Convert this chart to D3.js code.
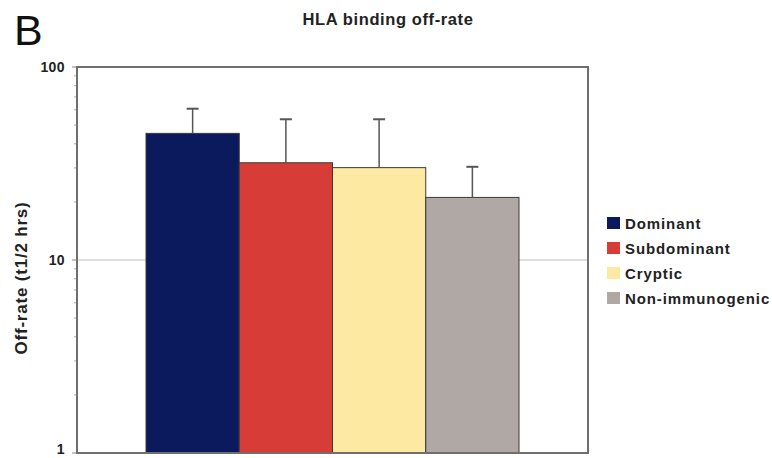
<!DOCTYPE html>
<html><head><meta charset="utf-8">
<script src="https://cdn.jsdelivr.net/npm/d3@7/dist/d3.min.js"></script>
<style>body{margin:0;background:#fff}svg{display:block}text{font-family:"Liberation Sans",Arial,sans-serif}</style>
</head><body>
<svg id="c" width="772" height="458"></svg>
<script>
const categories = ["Dominant", "Subdominant", "Cryptic", "Non-immunogenic"];
const values = [45.3, 31.9, 30.1, 21.1];
const errorTops = [60.8, 53.6, 53.6, 30.4];
const colors = ["#0b1a5c", "#d83c36", "#fde9a2", "#b0a8a4"];
const yTicks = [1, 10, 100];

(function () {
const svg = d3.select("#c");
const pL = 77, pR = 588, pT = 67, pB = 453;

const x = d3.scaleBand().domain(categories).range([pL, pR]).paddingInner(0).paddingOuter(0.74);
const y = d3.scaleLog().domain([1, 100]).range([pB, pT]);

// gridline at 10
svg.append("line").attr("x1", pL).attr("x2", pR).attr("y1", y(10)).attr("y2", y(10))
  .attr("stroke", "#bdbdbd").attr("stroke-width", 1.2);

// bars
svg.selectAll("rect.bar").data(categories).enter().append("rect")
  .attr("x", d => x(d)).attr("width", x.bandwidth())
  .attr("y", (d, i) => y(values[i])).attr("height", (d, i) => pB - y(values[i]))
  .attr("fill", (d, i) => colors[i]).attr("stroke", "#3a3a3a").attr("stroke-width", 1);

// error bars
const eb = svg.selectAll("g.eb").data(categories).enter().append("g");
eb.append("line").attr("x1", d => x(d) + x.bandwidth() / 2).attr("x2", d => x(d) + x.bandwidth() / 2)
  .attr("y1", (d, i) => y(values[i])).attr("y2", (d, i) => y(errorTops[i]))
  .attr("stroke", "#555").attr("stroke-width", 1.5);
eb.append("line").attr("x1", d => x(d) + x.bandwidth() / 2 - 6).attr("x2", d => x(d) + x.bandwidth() / 2 + 6)
  .attr("y1", (d, i) => y(errorTops[i])).attr("y2", (d, i) => y(errorTops[i]))
  .attr("stroke", "#555").attr("stroke-width", 2);

// y axis minor ticks
const minor = y.ticks().filter(t => !yTicks.includes(t));
svg.selectAll("line.minor").data(minor).enter().append("line")
  .attr("x1", pL - 3).attr("x2", pL).attr("y1", d => y(d)).attr("y2", d => y(d))
  .attr("stroke", "#aaa").attr("stroke-width", 1);
svg.selectAll("line.major").data(yTicks).enter().append("line")
  .attr("x1", pL - 5).attr("x2", pL).attr("y1", d => y(d)).attr("y2", d => y(d))
  .attr("stroke", "#888").attr("stroke-width", 1);

// frame
svg.append("rect").attr("x", pL).attr("y", pT).attr("width", pR - pL).attr("height", pB - pT)
  .attr("fill", "none").attr("stroke", "#6f6f6f").attr("stroke-width", 2);

// tick labels
svg.selectAll("text.tl").data(yTicks).enter().append("text")
  .attr("x", 65).attr("y", d => Math.min(y(d) + 5, 454)).attr("text-anchor", "end")
  .attr("font-size", 14).attr("letter-spacing", 0.4).attr("font-weight", "bold").attr("fill", "#222").text(d => d);

// y label
svg.append("text").attr("transform", "translate(27,278) rotate(-90)").attr("text-anchor", "middle")
  .attr("font-size", 17).attr("letter-spacing", 0.8).attr("font-weight", "bold").attr("fill", "#222").text("Off-rate (t1/2 hrs)");

// title
svg.append("text").attr("x", 388).attr("y", 25).attr("text-anchor", "middle")
  .attr("font-size", 16.5).attr("letter-spacing", 0.6).attr("font-weight", "bold").attr("fill", "#222").text("HLA binding off-rate");

// panel letter
svg.append("text").attr("x", 14).attr("y", 45).attr("font-size", 43).attr("fill", "#111").text("B");

// legend
const lg = svg.selectAll("g.lg").data(categories).enter().append("g")
  .attr("transform", (d, i) => `translate(607,${217 + i * 25})`);
lg.append("rect").attr("width", 13).attr("height", 12).attr("fill", (d, i) => colors[i]);
lg.append("text").attr("x", 18).attr("y", 11.5).attr("font-size", 15).attr("letter-spacing", 0.9).attr("font-weight", "bold")
  .attr("fill", "#222").text(d => d);
})();
</script>
</body></html>
